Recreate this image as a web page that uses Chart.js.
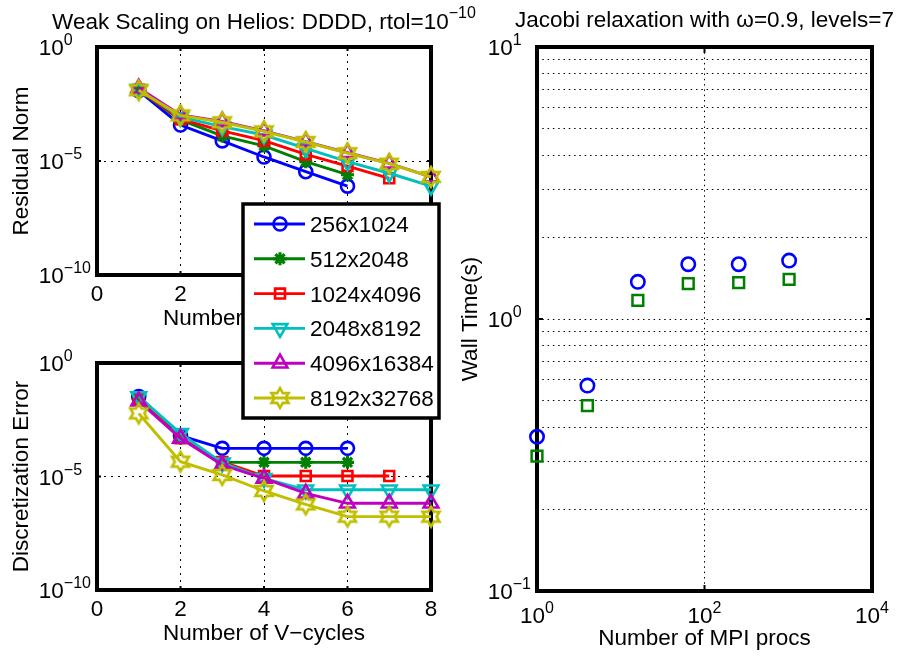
<!DOCTYPE html>
<html>
<head>
<meta charset="utf-8">
<title>Weak scaling</title>
<script src="https://cdn.jsdelivr.net/npm/chart.js@4.4.1/dist/chart.umd.min.js"></script>
<style>
  html, body { margin: 0; padding: 0; background: #fff; }
  #wrap { position: relative; width: 899px; height: 660px; }
  #wrap canvas { position: absolute; left: 0; top: 0; }
</style>
</head>
<body>
<div id="wrap">
  <canvas id="errChart" width="899" height="660"></canvas>
  <canvas id="resChart" width="899" height="660"></canvas>
  <canvas id="timeChart" width="899" height="660"></canvas>
</div>
<script>
// ---- data ----
var gridNames = ['256x1024', '512x2048', '1024x4096', '2048x8192', '4096x16384', '8192x32768'];
var vcycles = [1, 2, 3, 4, 5, 6, 7, 8];

// residual norm after each V-cycle
var resid256  = [1.2e-2, 3.8e-4, 7.6e-5, 1.5e-5, 3.4e-6, 7.9e-7];
var resid512  = [1.26e-2, 6.3e-4, 1.26e-4, 4.6e-5, 9.3e-6, 2.5e-6];
var resid1024 = [1.32e-2, 6.8e-4, 2.1e-4, 7.8e-5, 1.95e-5, 6.0e-6, 1.74e-6];
var resid2048 = [1.38e-2, 8.3e-4, 3.2e-4, 1.38e-4, 3.6e-5, 9.3e-6, 2.9e-6, 7.9e-7];
var resid4096 = [1.58e-2, 1.05e-3, 5.4e-4, 2.1e-4, 7.1e-5, 2.3e-5, 7.9e-6, 2.0e-6];
var resid8192 = [1.26e-2, 1.0e-3, 5.0e-4, 2.0e-4, 6.8e-5, 2.2e-5, 7.6e-6, 2.0e-6];

// discretization error after each V-cycle
var err256  = [3.3e-2, 6.3e-4, 1.74e-4, 1.74e-4, 1.74e-4, 1.74e-4];
var err512  = [2.8e-2, 4.8e-4, 4.2e-5, 4.2e-5, 4.2e-5, 4.2e-5];
var err1024 = [2.8e-2, 4.8e-4, 4.4e-5, 1.05e-5, 1.05e-5, 1.05e-5, 1.05e-5];
var err2048 = [3.3e-2, 7.9e-4, 4.0e-5, 8.3e-6, 2.6e-6, 2.6e-6, 2.6e-6, 2.6e-6];
var err4096 = [2.1e-2, 4.8e-4, 3.2e-5, 8.3e-6, 1.8e-6, 6.6e-7, 6.6e-7, 6.6e-7];
var err8192 = [6.0e-3, 4.5e-5, 1.17e-5, 2.3e-6, 5.9e-7, 1.7e-7, 1.7e-7, 1.7e-7];

// wall time vs. number of MPI processes
var mpiProcs = [1, 4, 16, 64, 256, 1024];
var wallTimeA = [0.369, 0.569, 1.37, 1.59, 1.59, 1.64];
var wallTimeB = [0.313, 0.48, 1.17, 1.35, 1.36, 1.40];

// axis ticks
var cycleTicks = [0, 2, 4, 6, 8];
var normTicks = [{ v: 1, e: '0' }, { v: 1e-5, e: '\u22125' }, { v: 1e-10, e: '\u221210' }];
var procTicks = [{ v: 1, e: '0' }, { v: 100, e: '2' }, { v: 10000, e: '4' }];
var timeTicks = [{ v: 0.1, e: '\u22121' }, { v: 1, e: '0' }, { v: 10, e: '1' }];
var timeGrid = [0.2, 0.3, 0.4, 0.5, 0.6, 0.7, 0.8, 0.9, 1, 2, 3, 4, 5, 6, 7, 8, 9];

// ---- styles ----
var FONT = '"Liberation Sans", Arial, Helvetica, sans-serif';
var TXT = 22.5, SUP = 16, RAISE = 10;
var lineColors = ['#0000ff', '#008000', '#ff0000', '#00bfbf', '#bf00bf', '#bfbf00'];

// six-pointed star marker, Chart.js has no built-in hexagram
var hexagram = (function () {
  var c = document.createElement('canvas');
  c.width = 26; c.height = 26;
  var g = c.getContext('2d');
  g.strokeStyle = '#bfbf00';
  g.lineWidth = 2.7;
  g.beginPath();
  for (var k = 0; k < 12; k++) {
    var r = k % 2 ? 5.6 : 9.8;
    var t = -Math.PI / 2 + k * Math.PI / 6;
    var px = 13 + r * Math.cos(t), py = 13 + r * Math.sin(t);
    if (k) g.lineTo(px, py); else g.moveTo(px, py);
  }
  g.closePath();
  g.stroke();
  return c;
})();

var markerStyles = ['circle', 'star', 'rect', 'triangle', 'triangle', hexagram];
var markerRotation = [0, 0, 0, 180, 0, 0];
var markerRadius = [6.5, 6.5, 7, 8.5, 8.5, 10];
var markerWidth = [2.6, 3.2, 2.6, 2.6, 2.6, 2.6];

function series(vals, i) {
  return {
    label: gridNames[i],
    data: vals.map(function (y, k) { return { x: vcycles[k], y: y }; }),
    borderColor: lineColors[i],
    pointBorderColor: lineColors[i],
    backgroundColor: 'rgba(0,0,0,0)',
    pointBackgroundColor: 'rgba(0,0,0,0)',
    borderWidth: 2.9,
    pointBorderWidth: markerWidth[i],
    pointRadius: markerRadius[i],
    pointStyle: markerStyles[i],
    pointRotation: markerRotation[i],
    order: 5 - i,
    clip: false,
    tension: 0
  };
}

function setFont(ctx, size) {
  ctx.font = size + 'px ' + FONT;
}

// "10" with a raised exponent
function powLabel(ctx, x, y, exp, align) {
  setFont(ctx, TXT);
  var wb = ctx.measureText('10').width;
  setFont(ctx, SUP);
  var we = ctx.measureText(exp).width;
  var baseRight = align === 'center' ? x - (wb + we) / 2 + wb : x;
  ctx.textAlign = 'right';
  setFont(ctx, TXT);
  ctx.fillText('10', baseRight, y);
  ctx.textAlign = 'left';
  setFont(ctx, SUP);
  ctx.fillText(exp, baseRight, y - RAISE);
}

function drawLegend(chart, box) {
  var ctx = chart.ctx, a = chart.chartArea;
  var left = a.left + box.dx, top = a.top + box.dy;
  ctx.save();
  ctx.fillStyle = '#fff';
  ctx.fillRect(left, top, box.w, box.h);
  ctx.lineWidth = 3.5;
  ctx.strokeStyle = '#000';
  ctx.strokeRect(left, top, box.w, box.h);
  chart.data.datasets.forEach(function (ds, i) {
    var y = top + 20 + i * box.step;
    ctx.strokeStyle = ds.borderColor;
    ctx.lineWidth = ds.borderWidth;
    ctx.beginPath();
    ctx.moveTo(left + 11, y);
    ctx.lineTo(left + 62, y);
    ctx.stroke();
    ctx.fillStyle = 'rgba(0,0,0,0)';
    ctx.lineWidth = ds.pointBorderWidth;
    Chart.helpers.drawPoint(ctx, {
      pointStyle: ds.pointStyle,
      rotation: ds.pointRotation,
      radius: ds.pointRadius,
      borderWidth: ds.pointBorderWidth
    }, left + 37, y);
    ctx.fillStyle = '#000';
    setFont(ctx, TXT);
    ctx.textAlign = 'left';
    ctx.textBaseline = 'alphabetic';
    ctx.fillText(ds.label, left + 67, y + 8);
  });
  ctx.restore();
}

// MATLAB-style box, inward ticks, tick labels and titles
function axesDecor(cfg) {
  return {
    id: 'axesDecor',
    beforeDatasetsDraw: function (chart) {
      var ctx = chart.ctx, a = chart.chartArea;
      var sx = chart.scales.x, sy = chart.scales.y;
      ctx.save();
      ctx.strokeStyle = '#000';
      ctx.lineWidth = 2;
      ctx.beginPath();
      cfg.xTicks.forEach(function (t) {
        var p = sx.getPixelForValue(t.v);
        ctx.moveTo(p, a.top); ctx.lineTo(p, a.top + cfg.tickLen);
        ctx.moveTo(p, a.bottom); ctx.lineTo(p, a.bottom - cfg.tickLen);
      });
      cfg.yTicks.forEach(function (t) {
        var p = sy.getPixelForValue(t.v);
        ctx.moveTo(a.left, p); ctx.lineTo(a.left + cfg.tickLen, p);
        ctx.moveTo(a.right, p); ctx.lineTo(a.right - cfg.tickLen, p);
      });
      ctx.stroke();
      ctx.lineWidth = 4;
      ctx.strokeRect(a.left, a.top, a.width, a.height);
      ctx.restore();
    },
    afterDraw: function (chart) {
      var ctx = chart.ctx, a = chart.chartArea;
      var sx = chart.scales.x, sy = chart.scales.y;
      var cx = (a.left + a.right) / 2;
      ctx.save();
      ctx.fillStyle = '#000';
      ctx.textBaseline = 'alphabetic';

      cfg.xTicks.forEach(function (t) {
        var p = sx.getPixelForValue(t.v);
        if (t.e !== undefined) {
          powLabel(ctx, p, a.bottom + cfg.xTickDrop, t.e, 'center');
        } else {
          setFont(ctx, TXT);
          ctx.textAlign = 'center';
          ctx.fillText(String(t.v), p, a.bottom + cfg.xTickDrop);
        }
      });

      setFont(ctx, SUP);
      var expW = Math.max.apply(null, cfg.yTicks.map(function (t) { return ctx.measureText(t.e).width; }));
      var baseRight = a.left - 6 - expW;
      cfg.yTicks.forEach(function (t) {
        powLabel(ctx, baseRight, sy.getPixelForValue(t.v) + 8, t.e, 'right');
      });

      setFont(ctx, TXT);
      ctx.textAlign = 'center';
      ctx.fillText(cfg.xTitle, cx, a.bottom + cfg.xTitleDrop);

      ctx.save();
      ctx.translate(cfg.yTitleX, (a.top + a.bottom) / 2);
      ctx.rotate(-Math.PI / 2);
      ctx.fillText(cfg.yTitle, 0, 0);
      ctx.restore();

      if (cfg.title) {
        setFont(ctx, TXT);
        var wm = ctx.measureText(cfg.title.text).width;
        var ws = 0;
        if (cfg.title.sup) { setFont(ctx, SUP); ws = ctx.measureText(cfg.title.sup).width; }
        var x0 = cx - (wm + ws) / 2;
        ctx.textAlign = 'left';
        setFont(ctx, TXT);
        ctx.fillText(cfg.title.text, x0, cfg.title.y);
        if (cfg.title.sup) {
          setFont(ctx, SUP);
          ctx.fillText(cfg.title.sup, x0 + wm, cfg.title.y - RAISE - 1);
        }
      }
      ctx.restore();
      if (cfg.legend) drawLegend(chart, cfg.legend);
    }
  };
}

function cycleScales(dash) {
  return {
    x: {
      type: 'linear', min: 0, max: 8,
      afterBuildTicks: function (s) { s.ticks = cycleTicks.map(function (v) { return { value: v }; }); },
      ticks: { display: false },
      grid: { color: '#000', lineWidth: 1, drawTicks: false },
      border: { display: false, dash: dash }
    },
    y: {
      type: 'logarithmic', min: 1e-10, max: 1,
      afterBuildTicks: function (s) { s.ticks = normTicks.map(function (t) { return { value: t.v }; }); },
      ticks: { display: false },
      grid: { color: '#000', lineWidth: 1, drawTicks: false },
      border: { display: false, dash: dash }
    }
  };
}

var cycleTickObjs = cycleTicks.map(function (v) { return { v: v }; });

// residual norm, top left
new Chart(document.getElementById('resChart'), {
  type: 'line',
  data: {
    datasets: [resid256, resid512, resid1024, resid2048, resid4096, resid8192].map(series)
  },
  options: {
    responsive: false,
    animation: false,
    events: [],
    layout: { padding: { left: 97, top: 47, right: 468, bottom: 385 } },
    scales: cycleScales([2, 5]),
    plugins: { legend: { display: false }, tooltip: { enabled: false } }
  },
  plugins: [axesDecor({
    xTicks: cycleTickObjs, yTicks: normTicks, tickLen: 4,
    xTickDrop: 26, xTitle: 'Number of V\u2212cycles', xTitleDrop: 50,
    yTitle: 'Residual Norm', yTitleX: 28,
    title: { text: 'Weak Scaling on Helios: DDDD, rtol=10', sup: '\u221210', y: 29 },
    legend: { dx: 146, dy: 157, w: 196, h: 214, step: 34.8 }
  })]
});

// discretization error, bottom left
new Chart(document.getElementById('errChart'), {
  type: 'line',
  data: {
    datasets: [err256, err512, err1024, err2048, err4096, err8192].map(series)
  },
  options: {
    responsive: false,
    animation: false,
    events: [],
    layout: { padding: { left: 97, top: 363, right: 468, bottom: 70 } },
    scales: cycleScales([2, 5]),
    plugins: { legend: { display: false }, tooltip: { enabled: false } }
  },
  plugins: [axesDecor({
    xTicks: cycleTickObjs, yTicks: normTicks, tickLen: 4,
    xTickDrop: 26, xTitle: 'Number of V\u2212cycles', xTitleDrop: 50,
    yTitle: 'Discretization Error', yTitleX: 28
  })]
});

// wall time, right
new Chart(document.getElementById('timeChart'), {
  type: 'scatter',
  data: {
    datasets: [{
      data: mpiProcs.map(function (p, k) { return { x: p, y: wallTimeA[k] }; }),
      pointStyle: 'circle', pointRadius: 6.7, pointBorderWidth: 2.6,
      pointBorderColor: '#0000ff', pointBackgroundColor: 'rgba(0,0,0,0)', clip: false
    }, {
      data: mpiProcs.map(function (p, k) { return { x: p, y: wallTimeB[k] }; }),
      pointStyle: 'rect', pointRadius: 7.6, pointBorderWidth: 2.5,
      pointBorderColor: '#008000', pointBackgroundColor: 'rgba(0,0,0,0)', clip: false
    }]
  },
  options: {
    responsive: false,
    animation: false,
    events: [],
    layout: { padding: { left: 537, top: 47, right: 27, bottom: 69 } },
    scales: {
      x: {
        type: 'logarithmic', min: 1, max: 10000,
        afterBuildTicks: function (s) { s.ticks = procTicks.map(function (t) { return { value: t.v }; }); },
        ticks: { display: false },
        grid: { color: '#000', lineWidth: 1, drawTicks: false },
        border: { display: false, dash: [1.5, 3.8] }
      },
      y: {
        type: 'logarithmic', min: 0.1, max: 10,
        afterBuildTicks: function (s) { s.ticks = timeGrid.map(function (v) { return { value: v }; }); },
        ticks: { display: false },
        grid: { color: '#000', lineWidth: 1, drawTicks: false },
        border: { display: false, dash: [1.5, 3.8] }
      }
    },
    plugins: { legend: { display: false }, tooltip: { enabled: false } }
  },
  plugins: [axesDecor({
    xTicks: procTicks, yTicks: timeTicks, tickLen: 6,
    xTickDrop: 32, xTitle: 'Number of MPI procs', xTitleDrop: 54,
    yTitle: 'Wall Time(s)', yTitleX: 477,
    title: { text: 'Jacobi relaxation with \u03c9=0.9, levels=7', y: 27 }
  })]
});
</script>
</body>
</html>
